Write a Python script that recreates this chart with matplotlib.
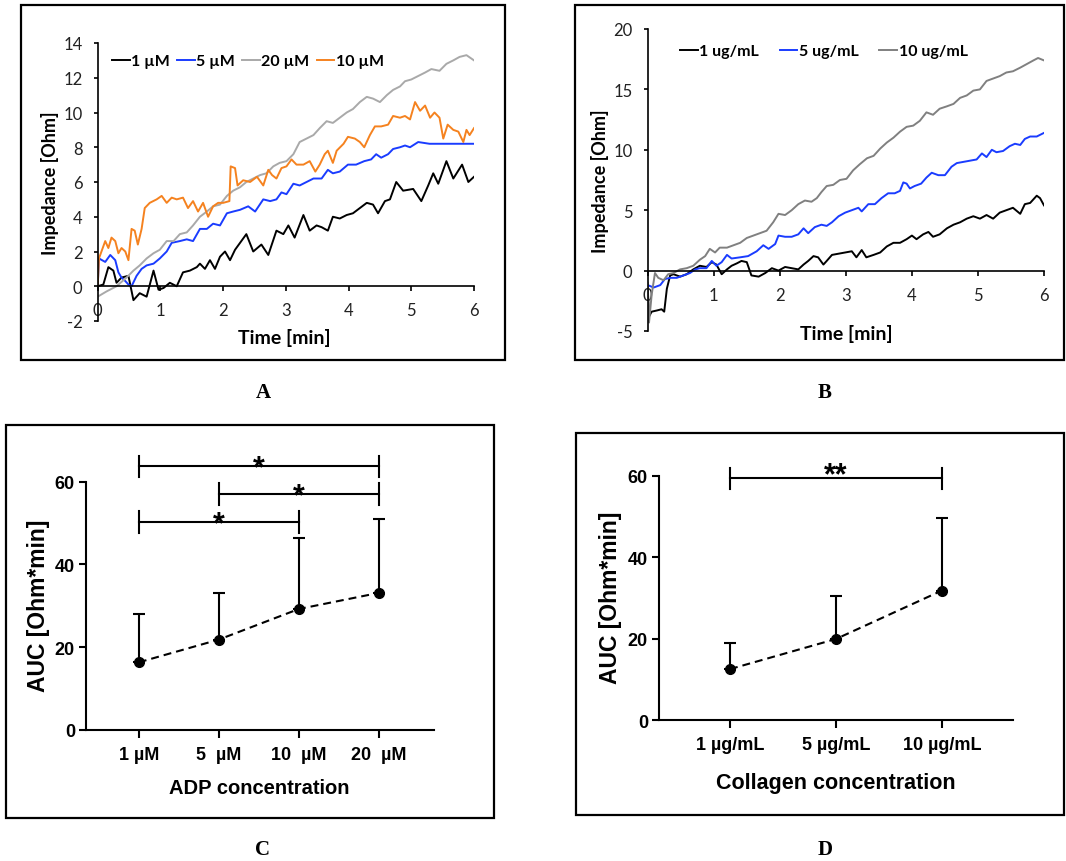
import numpy as np
import matplotlib
matplotlib.use("Agg")
import matplotlib.pyplot as plt
from matplotlib.patches import Rectangle

plt.rcParams["axes.unicode_minus"] = False

# ---- Panel A: ADP impedance traces (time [min], impedance [Ohm]) ----
a_1um = [(0, 0), (0.09, 0.1), (0.17, 1.1), (0.25, 0.9), (0.30, 0.2), (0.38, 0.5), (0.49, 0.6),
         (0.57, -0.8), (0.67, -0.4), (0.78, -0.6), (0.89, 0.9), (0.97, -0.2), (1.05, -0.1),
         (1.15, 0.2), (1.26, 0.0), (1.36, 0.8), (1.47, 0.9), (1.58, 1.1), (1.63, 1.3), (1.71, 1.0),
         (1.79, 1.5), (1.87, 1.0), (1.95, 1.7), (2.03, 2.0), (2.11, 1.5), (2.19, 2.1), (2.27, 2.5),
         (2.37, 3.0), (2.48, 2.0), (2.61, 2.4), (2.72, 1.8), (2.85, 3.2), (2.96, 3.0), (3.04, 3.5),
         (3.14, 2.8), (3.28, 4.1), (3.38, 3.2), (3.49, 3.5), (3.57, 3.4), (3.67, 3.2), (3.75, 4.0),
         (3.86, 3.9), (3.97, 4.1), (4.07, 4.2), (4.18, 4.5), (4.29, 4.8), (4.39, 4.7), (4.47, 4.2),
         (4.58, 4.9), (4.66, 5.0), (4.76, 6.0), (4.87, 5.5), (5.03, 5.6), (5.16, 4.9), (5.27, 5.8),
         (5.35, 6.5), (5.43, 5.9), (5.56, 7.2), (5.67, 6.2), (5.81, 7.0), (5.91, 6.0), (6.0, 6.3)]
a_5um = [(0, 0), (0.02, 1.6), (0.12, 1.4), (0.20, 1.8), (0.28, 1.5), (0.33, 0.8), (0.38, 0.5),
         (0.44, 0.3), (0.49, 0.1), (0.54, 0.0), (0.62, 0.6), (0.70, 1.0), (0.78, 1.2), (0.89, 1.3),
         (0.99, 1.6), (1.10, 2.0), (1.18, 2.5), (1.31, 2.6), (1.42, 2.7), (1.52, 2.6), (1.63, 3.3),
         (1.74, 3.3), (1.84, 3.6), (1.95, 3.5), (2.06, 4.2), (2.16, 4.3), (2.27, 4.4), (2.40, 4.6),
         (2.51, 4.3), (2.64, 5.0), (2.75, 4.9), (2.85, 5.0), (2.93, 5.4), (3.01, 5.3), (3.12, 5.9),
         (3.22, 5.8), (3.33, 6.0), (3.44, 6.2), (3.57, 6.2), (3.67, 6.7), (3.75, 6.5), (3.86, 6.6),
         (3.99, 7.0), (4.12, 7.0), (4.25, 7.2), (4.36, 7.3), (4.44, 7.6), (4.52, 7.4), (4.63, 7.6),
         (4.71, 7.9), (4.82, 8.0), (4.90, 8.1), (4.98, 8.0), (5.11, 8.3), (5.29, 8.2), (5.51, 8.2),
         (5.72, 8.2), (6.0, 8.2)]
a_20um = [(0, -0.6), (0.14, -0.3), (0.30, 0.0), (0.46, 0.5), (0.57, 0.9), (0.67, 1.2), (0.78, 1.6),
          (0.89, 1.9), (0.99, 2.1), (1.10, 2.6), (1.21, 2.6), (1.31, 3.0), (1.42, 3.1), (1.52, 3.5),
          (1.63, 4.0), (1.74, 4.3), (1.84, 4.6), (1.95, 4.7), (2.06, 5.2), (2.16, 5.5), (2.27, 5.7),
          (2.37, 6.0), (2.48, 6.2), (2.59, 6.4), (2.69, 6.5), (2.80, 6.9), (2.90, 7.1), (3.01, 7.2),
          (3.12, 7.6), (3.22, 8.3), (3.33, 8.5), (3.44, 8.7), (3.54, 9.1), (3.65, 9.5), (3.75, 9.4),
          (3.86, 9.7), (3.97, 10.0), (4.07, 10.2), (4.18, 10.6), (4.29, 10.9), (4.39, 10.8),
          (4.50, 10.6), (4.61, 11.0), (4.71, 11.3), (4.82, 11.5), (4.90, 11.8), (5.00, 11.9),
          (5.11, 12.1), (5.22, 12.3), (5.32, 12.5), (5.45, 12.4), (5.56, 12.8), (5.67, 13.0),
          (5.77, 13.2), (5.88, 13.3), (6.0, 13.0)]
a_10um = [(0, 0), (0.02, 1.6), (0.06, 2.0), (0.12, 2.6), (0.17, 2.2), (0.22, 2.8), (0.28, 2.6),
          (0.33, 1.9), (0.38, 2.2), (0.44, 2.0), (0.49, 1.5), (0.54, 3.3), (0.59, 3.2), (0.64, 2.4),
          (0.70, 3.3), (0.75, 4.5), (0.83, 4.8), (0.94, 5.0), (1.02, 5.2), (1.10, 4.8), (1.18, 5.1),
          (1.26, 5.0), (1.36, 5.1), (1.44, 4.5), (1.52, 4.9), (1.60, 4.3), (1.68, 4.8), (1.76, 4.0),
          (1.84, 4.6), (1.92, 4.8), (2.00, 4.8), (2.10, 4.9), (2.12, 6.9), (2.19, 6.8), (2.23, 5.8),
          (2.32, 6.1), (2.43, 6.0), (2.54, 6.3), (2.64, 5.8), (2.72, 6.7), (2.78, 6.4), (2.85, 6.2),
          (2.93, 6.8), (3.01, 6.9), (3.09, 7.3), (3.17, 7.0), (3.28, 7.0), (3.38, 7.2), (3.47, 6.6),
          (3.54, 7.0), (3.62, 7.6), (3.67, 7.8), (3.75, 7.1), (3.81, 7.8), (3.92, 8.2), (3.99, 8.6),
          (4.10, 8.5), (4.18, 8.3), (4.25, 8.0), (4.34, 8.7), (4.42, 9.2), (4.52, 9.2), (4.63, 9.3),
          (4.71, 9.8), (4.82, 9.7), (4.90, 9.8), (4.98, 9.6), (5.06, 10.6), (5.14, 10.1),
          (5.22, 10.4), (5.30, 9.7), (5.37, 10.0), (5.45, 9.7), (5.51, 8.5), (5.58, 9.3),
          (5.67, 9.0), (5.75, 8.9), (5.83, 8.3), (5.88, 9.0), (5.93, 8.7), (6.0, 9.1)]

# ---- Panel B: collagen impedance traces ----
b_1 = [(0, -1.5), (0.02, -3.8), (0.06, -3.4), (0.14, -3.3), (0.21, -3.2), (0.25, -3.4),
       (0.29, -1.5), (0.34, -0.4), (0.39, -0.3), (0.49, -0.5), (0.59, -0.3), (0.69, 0.1),
       (0.79, 0.4), (0.89, 0.3), (0.97, 0.7), (1.04, 0.5), (1.12, -0.3), (1.20, 0.1), (1.27, 0.4),
       (1.35, 0.6), (1.42, 0.8), (1.50, 0.7), (1.57, -0.4), (1.68, -0.5), (1.78, -0.2), (1.88, 0.2),
       (1.98, 0.0), (2.08, 0.3), (2.18, 0.2), (2.28, 0.1), (2.36, 0.5), (2.43, 0.8), (2.51, 1.2),
       (2.58, 1.1), (2.66, 0.5), (2.71, 0.8), (2.79, 1.3), (2.89, 1.4), (2.99, 1.5), (3.09, 1.6),
       (3.16, 1.1), (3.24, 1.7), (3.31, 1.1), (3.42, 1.3), (3.52, 1.5), (3.62, 2.0), (3.72, 2.3),
       (3.82, 2.3), (3.92, 2.6), (4.00, 2.9), (4.07, 2.6), (4.17, 3.0), (4.25, 3.2), (4.32, 2.8),
       (4.42, 3.0), (4.53, 3.5), (4.63, 3.8), (4.73, 4.0), (4.83, 4.3), (4.93, 4.5), (5.03, 4.3),
       (5.13, 4.6), (5.23, 4.3), (5.33, 4.8), (5.43, 5.0), (5.53, 5.2), (5.64, 4.7), (5.71, 5.5),
       (5.79, 5.6), (5.89, 6.2), (5.94, 6.0), (6.0, 5.4)]
b_5 = [(0, -1.2), (0.09, -1.4), (0.19, -1.2), (0.26, -0.7), (0.34, -0.6), (0.44, -0.6),
       (0.54, -0.4), (0.64, -0.2), (0.72, 0.1), (0.79, 0.2), (0.89, 0.2), (0.97, 0.8), (1.04, 0.4),
       (1.12, 0.7), (1.20, 1.3), (1.27, 1.0), (1.40, 1.1), (1.52, 1.2), (1.65, 1.6), (1.75, 2.1),
       (1.83, 1.8), (1.93, 2.2), (1.98, 2.9), (2.08, 2.8), (2.18, 2.8), (2.28, 3.0), (2.36, 3.5),
       (2.43, 3.1), (2.53, 3.6), (2.63, 3.8), (2.71, 3.7), (2.79, 4.0), (2.89, 4.5), (2.99, 4.8),
       (3.09, 5.0), (3.19, 5.2), (3.24, 4.9), (3.34, 5.5), (3.44, 5.5), (3.54, 6.0), (3.64, 6.4),
       (3.74, 6.4), (3.82, 6.6), (3.87, 7.3), (3.92, 7.2), (3.97, 6.8), (4.04, 7.0), (4.14, 7.2),
       (4.22, 7.7), (4.30, 8.1), (4.40, 7.9), (4.50, 7.9), (4.60, 8.6), (4.68, 8.9), (4.78, 9.0),
       (4.88, 9.1), (4.98, 9.2), (5.06, 9.7), (5.13, 9.4), (5.21, 10.0), (5.28, 9.8), (5.38, 9.9),
       (5.48, 10.3), (5.56, 10.5), (5.64, 10.4), (5.71, 10.9), (5.79, 11.1), (5.89, 11.1),
       (6.0, 11.4)]
b_10 = [(0, -1.0), (0.02, -4.3), (0.06, -2.0), (0.11, -0.2), (0.16, -0.6), (0.24, -0.8),
        (0.31, -0.3), (0.39, -0.2), (0.49, 0.1), (0.59, 0.2), (0.69, 0.4), (0.79, 0.9), (0.87, 1.2),
        (0.94, 1.8), (1.02, 1.5), (1.09, 1.9), (1.20, 1.9), (1.30, 2.1), (1.40, 2.3), (1.50, 2.7),
        (1.60, 2.9), (1.70, 3.1), (1.80, 3.3), (1.90, 4.0), (1.98, 4.7), (2.08, 4.6), (2.18, 5.0),
        (2.28, 5.5), (2.38, 5.8), (2.48, 5.7), (2.56, 6.0), (2.63, 6.5), (2.71, 7.0), (2.81, 7.1),
        (2.91, 7.5), (3.01, 7.6), (3.11, 8.3), (3.21, 8.8), (3.32, 9.3), (3.42, 9.5), (3.52, 10.1),
        (3.62, 10.6), (3.72, 11.0), (3.82, 11.5), (3.92, 11.9), (4.02, 12.0), (4.12, 12.4),
        (4.22, 13.1), (4.32, 12.9), (4.42, 13.4), (4.53, 13.6), (4.63, 13.8), (4.73, 14.3),
        (4.83, 14.5), (4.93, 14.9), (5.03, 15.0), (5.13, 15.7), (5.23, 15.9), (5.33, 16.1),
        (5.43, 16.4), (5.53, 16.5), (5.64, 16.8), (5.74, 17.1), (5.84, 17.4), (5.91, 17.6),
        (6.0, 17.4)]

# ---- Panel C / D: AUC mean and upper error ----
adp_labels = ["1 µM", "5  µM", "10  µM", "20  µM"]
adp_mean = [16.3, 21.8, 29.2, 33.1]
adp_upper = [28.1, 33.1, 46.4, 51.0]
col_labels = ["1 µg/mL", "5 µg/mL", "10 µg/mL"]
col_mean = [12.5, 19.9, 31.8]
col_upper = [18.8, 30.4, 49.7]

W, H = 1066, 862
fig = plt.figure(figsize=(W / 100, H / 100), dpi=100)

def px_axes(x0, y0, x1, y1):
    return fig.add_axes([x0 / W, 1 - y1 / H, (x1 - x0) / W, (y1 - y0) / H])

def box(x0, y0, x1, y1):
    fig.patches.append(Rectangle((x0 / W, 1 - y1 / H), (x1 - x0) / W, (y1 - y0) / H,
                                 transform=fig.transFigure, fill=False, lw=1.6, ec="black"))

def panel_label(x, y, s):
    fig.text(x / W, 1 - y / H, s, ha="center", va="center", family="Liberation Serif",
             fontweight="bold", fontsize=15)

XL = "Lato"
XA = "Liberation Sans"

def excel_axes(ax, ylim, yticks):
    ax.set_xlim(0, 6)
    ax.set_ylim(*ylim)
    ax.set_yticks(yticks)
    ax.set_xticks(range(7))
    ax.spines["top"].set_visible(False)
    ax.spines["right"].set_visible(False)
    ax.spines["bottom"].set_position(("data", 0))
    for s in ("left", "bottom"):
        ax.spines[s].set_linewidth(1.2)
    ax.tick_params(axis="y", direction="out", length=3, width=1.2, pad=8, labelsize=12)
    ax.tick_params(axis="x", direction="out", length=3.5, width=1.2, pad=8, labelsize=12)
    for lbl in ax.get_xticklabels() + ax.get_yticklabels():
        lbl.set_family(XL)
        lbl.set_color("#222222")

def add_legend(ax, x, y, ncol, spacing):
    leg = ax.legend(loc="center left", bbox_to_anchor=(x, y), ncol=ncol, frameon=False,
                    handlelength=1.1, handletextpad=0.1, columnspacing=spacing, borderpad=0,
                    borderaxespad=0, prop={"family": XL, "weight": "bold", "size": 11.5})
    return leg

# ---------- A ----------
box(21, 6, 505, 361)
axA = px_axes(97.7, 44, 474, 322)
for data, col, lab in [(a_1um, "black", "1 µM"), (a_5um, "#1a3cff", "5 µM"),
                       (a_20um, "#a9a9a9", "20 µM"), (a_10um, "#f5821f", "10 µM")]:
    t, v = zip(*data)
    axA.plot(t, v, color=col, lw=1.4, label=lab)
excel_axes(axA, (-2, 14), range(-2, 15, 2))
add_legend(axA, 0.038, 0.935, 4, 0.45)
axA.text(0.495, -0.058, "Time [min]", transform=axA.transAxes, ha="center", va="center",
         family=XL, fontweight="bold", fontsize=14)
axA.text(-0.127, 0.5, "Impedance [Ohm]", transform=axA.transAxes, ha="center", va="center",
         rotation=90, family=XL, fontweight="bold", fontsize=13)
panel_label(263, 393, "A")

# ---------- B ----------
box(575, 6, 1064, 361)
axB = px_axes(647.7, 30, 1044, 332)
for data, col, lab in [(b_1, "black", "1 ug/mL"), (b_5, "#1a3cff", "5 ug/mL"),
                       (b_10, "#808080", "10 ug/mL")]:
    t, v = zip(*data)
    axB.plot(t, v, color=col, lw=1.4, label=lab)
excel_axes(axB, (-5, 20), range(-5, 21, 5))
add_legend(axB, 0.0815, 0.927, 3, 1.3)
axB.text(0.502, -0.007, "Time [min]", transform=axB.transAxes, ha="center", va="center",
         family=XL, fontweight="bold", fontsize=14)
axB.text(-0.12, 0.5, "Impedance [Ohm]", transform=axB.transAxes, ha="center", va="center",
         rotation=90, family=XL, fontweight="bold", fontsize=13)
panel_label(825, 393, "B")

# ---------- C / D ----------
def auc_axes(ax, labels, mean, upper, xlim):
    x = np.arange(len(labels))
    err = np.array(upper) - np.array(mean)
    ax.errorbar(x, mean, yerr=[np.zeros(len(x)), err], fmt="none", ecolor="black",
                elinewidth=1.5, capsize=4, capthick=1.5, zorder=2)
    ax.plot(x, mean, color="black", lw=1.5, dashes=(3.8, 2.4), zorder=3)
    ax.plot(x, mean, "o", color="black", ms=7, zorder=4)
    ax.set_xlim(*xlim)
    ax.set_ylim(0, 60)
    ax.set_yticks([0, 20, 40, 60])
    ax.set_yticklabels(["0", "20", "40", "60"], family=XA, fontweight="bold", fontsize=13)
    ax.set_xticks(x)
    ax.set_xticklabels(labels, family=XA, fontweight="bold", fontsize=13)
    ax.spines["top"].set_visible(False)
    ax.spines["right"].set_visible(False)
    for s in ("left", "bottom"):
        ax.spines[s].set_linewidth(1.5)
    ax.tick_params(axis="y", length=5, width=1.5, pad=3)
    ax.tick_params(axis="x", length=5.5, width=1.5, pad=6)

def bracket(ax, x0, x1, y, h, s, off):
    kw = dict(color="black", lw=1.5, clip_on=False)
    ax.plot([x0, x1], [y, y], **kw)
    ax.plot([x0, x0], [y - h, y + h], **kw)
    ax.plot([x1, x1], [y - h, y + h], **kw)
    ax.annotate(s, ((x0 + x1) / 2, y), xytext=(0, off), textcoords="offset points",
                ha="center", va="baseline", family=XA, fontweight="bold", fontsize=22,
                annotation_clip=False)

box(6, 426, 494, 819)
axC = px_axes(86, 482.7, 434, 730.7)
auc_axes(axC, adp_labels, adp_mean, adp_upper, (-0.66, 3.69))
bracket(axC, 0, 3, 63.7, 2.6, "*", -7)
bracket(axC, 1, 3, 57.0, 2.7, "*", -7)
bracket(axC, 0, 2, 50.2, 2.6, "*", -7)
axC.text(0.498, -0.232, "ADP concentration", transform=axC.transAxes, ha="center",
         va="center", family=XA, fontweight="bold", fontsize=14.5)
axC.text(-0.136, 0.503, "AUC [Ohm*min]", transform=axC.transAxes, ha="center", va="center",
         rotation=90, family=XA, fontweight="bold", fontsize=16.5)
panel_label(263, 850, "C")

box(576, 434, 1064, 816)
axD = px_axes(659, 476.7, 1013, 721)
auc_axes(axD, col_labels, col_mean, col_upper, (-0.67, 2.67))
bracket(axD, 0, 2, 59.4, 2.6, "**", -4)
axD.text(0.499, -0.255, "Collagen concentration", transform=axD.transAxes, ha="center",
         va="center", family=XA, fontweight="bold", fontsize=15.5)
axD.text(-0.136, 0.503, "AUC [Ohm*min]", transform=axD.transAxes, ha="center", va="center",
         rotation=90, family=XA, fontweight="bold", fontsize=16.5)
panel_label(825, 850, "D")

fig.savefig("out.png", dpi=100)
